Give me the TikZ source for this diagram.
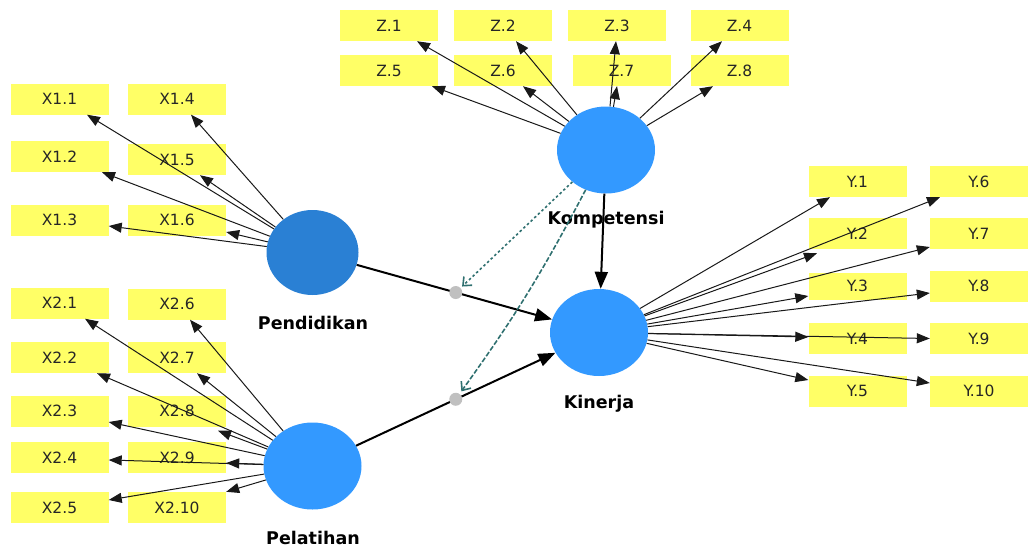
\documentclass[tikz,border=0pt]{standalone}
\usepackage{fontspec}
\setmainfont{DejaVu Sans}
\usetikzlibrary{arrows.meta,calc,shapes.geometric}
\definecolor{boxyellow}{RGB}{255,255,102}
\definecolor{lvblue}{RGB}{51,153,255}
\definecolor{lvdark}{RGB}{42,128,212}
\definecolor{tealpath}{RGB}{47,112,112}
\definecolor{dotgray}{RGB}{192,192,192}
\begin{document}
\begin{tikzpicture}[x=1pt,y=-1pt,
  ind/.style={rectangle, fill=boxyellow, minimum width=98pt, minimum height=31pt, inner sep=0pt,
              font=\fontsize{15.5}{17}\selectfont, text=black!85},
  lv/.style={ellipse, fill=lvblue, minimum width=98pt, minimum height=87pt, inner sep=0pt},
  lab/.style={font=\fontsize{17.5}{20}\selectfont\bfseries, text=black},
  arr/.style={draw=black!90, line width=1pt, -{Triangle[length=13pt,width=10pt]}},
  strpath/.style={draw=black, line width=2pt, -{Triangle[length=17pt,width=13pt]}},
  moddot/.style={circle, fill=dotgray, minimum size=13pt, inner sep=0pt},
  modarrow/.style={draw=tealpath, line width=1.6pt, -{Straight Barb[length=7pt,width=12pt]}}
]
\useasboundingbox (0,0) rectangle (1028,550);

% latent variables
\node[lv] (K) at (606,150) {};
\node[lv, fill=lvdark, minimum width=92pt, minimum height=85pt] (P) at (312.5,252.5) {};
\node[lv] (L) at (312.5,466) {};
\node[lv] (Kin) at (599,332.5) {};

\node[lab] (Klab) at (606,220) {Kompetensi};
\node[lab] (Plab) at (313,323) {Pendidikan};
\node[lab] (Llab) at (313,538) {Pelatihan};
\node[lab] (Kinlab) at (599,404) {Kinerja};

% Z indicators
\node[ind] (Z1) at (389,25.5) {Z.1};
\node[ind] (Z2) at (503,25.5) {Z.2};
\node[ind] (Z3) at (617,25.5) {Z.3};
\node[ind] (Z4) at (739.5,25.5) {Z.4};
\node[ind] (Z5) at (389,70.5) {Z.5};
\node[ind] (Z6) at (503,70.5) {Z.6};
\node[ind] (Z7) at (621.5,70.5) {Z.7};
\node[ind] (Z8) at (739.5,70.5) {Z.8};

% X1 indicators
\node[ind] (X11) at (59.5,99) {X1.1};
\node[ind] (X14) at (177,99) {X1.4};
\node[ind] (X12) at (59.5,156.5) {X1.2};
\node[ind] (X15) at (177,159.5) {X1.5};
\node[ind] (X13) at (59.5,220) {X1.3};
\node[ind] (X16) at (177,220) {X1.6};

% X2 indicators
\node[ind] (X21) at (59.5,303) {X2.1};
\node[ind] (X26) at (177,304) {X2.6};
\node[ind] (X22) at (59.5,357.5) {X2.2};
\node[ind] (X27) at (177,357.5) {X2.7};
\node[ind] (X23) at (59.5,411) {X2.3};
\node[ind] (X28) at (177,411) {X2.8};
\node[ind] (X24) at (59.5,457.5) {X2.4};
\node[ind] (X29) at (177,457.5) {X2.9};
\node[ind] (X25) at (59.5,507.5) {X2.5};
\node[ind] (X210) at (177,507.5) {X2.10};

% Y indicators
\node[ind] (Y1) at (857.5,181.5) {Y.1};
\node[ind] (Y6) at (979,181.5) {Y.6};
\node[ind] (Y2) at (857.5,233.5) {Y.2};
\node[ind] (Y7) at (979,233.5) {Y.7};
\node[ind, minimum height=27pt] (Y3) at (857.5,286) {Y.3};
\node[ind] (Y8) at (979,286) {Y.8};
\node[ind] (Y4) at (857.5,338.5) {Y.4};
\node[ind] (Y9) at (979,338.5) {Y.9};
\node[ind] (Y5) at (857.5,391) {Y.5};
\node[ind] (Y10) at (979,391) {Y.10};

% Kompetensi loadings
\draw[arr] (K) -- ([xshift=28pt]Z1.south);
\draw[arr] (K) -- ([xshift=13pt]Z2.south);
\draw[arr] (K) -- ([xshift=-1pt]Z3.south);
\draw[arr] (K) -- ([xshift=-17.5pt]Z4.south);
\draw[arr] (K) -- ([xshift=43pt]Z5.south);
\draw[arr] (K) -- ([xshift=20pt]Z6.south);
\draw[arr] (K) -- ([xshift=-4.5pt]Z7.south);
\draw[arr] (K) -- ([xshift=-26.5pt]Z8.south);

% Pendidikan loadings
\draw[arr] (P) -- ([xshift=27.5pt]X11.south);
\draw[arr] (P) -- ([xshift=14pt]X14.south);
\draw[arr] (P) -- ([xshift=42.5pt]X12.south);
\draw[arr] (P) -- ([xshift=23pt]X15.south);
\draw[arr] (P) -- ([yshift=-6pt]X13.east);
\draw[arr] (P) -- ([yshift=-12pt]X16.east);

% Pelatihan loadings
\draw[arr] (L) -- ([xshift=25.5pt]X21.south);
\draw[arr] (L) -- ([xshift=13pt]X26.south);
\draw[arr] (L) -- ([xshift=37.5pt]X22.south);
\draw[arr] (L) -- ([xshift=20pt]X27.south);
\draw[arr] (L) -- ([yshift=-11pt]X23.east);
\draw[arr] (L) -- ([xshift=41pt,yshift=-4pt]X28.south);
\draw[arr] (L) -- ([yshift=-2.5pt]X24.east);
\draw[arr] (L) -- ([yshift=-5.5pt]X29.east);
\draw[arr] (L) -- ([yshift=7.5pt]X25.east);
\draw[arr] (L) -- (X210.north east);

% Kinerja loadings
\draw[arr] (Kin) -- ([xshift=-27.5pt]Y1.south);
\draw[arr] (Kin) -- ([xshift=-39pt]Y6.south);
\draw[arr] (Kin) -- ([xshift=-40.5pt,yshift=-4pt]Y2.south);
\draw[arr] (Kin) -- ([yshift=-13.5pt]Y7.west);
\draw[arr] (Kin) -- ([yshift=-10pt]Y3.west);
\draw[arr] (Kin) -- ([yshift=-7pt]Y8.west);
\draw[arr] (Kin) -- ([yshift=1.5pt]Y4.west);
\draw[arr] (Kin) -- (Y9.west);
\draw[arr] (Kin) -- ([yshift=11pt]Y5.west);
\draw[arr] (Kin) -- ([yshift=8pt]Y10.west);

% structural paths
\draw[strpath] (P) -- (Kin);
\draw[strpath] (L) -- (Kin);
\draw[strpath] (K) -- (Kin);

% moderating effects
\node[moddot] (d1) at ($(P.center)!0.5!(Kin.center)$) {};
\node[moddot] (d2) at ($(L.center)!0.5!(Kin.center)$) {};
\draw[modarrow, dash pattern=on 2.5pt off 2.5pt, shorten >=2pt] (K) -- (d1);
\draw[modarrow, dash pattern=on 5pt off 2pt, shorten >=3pt] (K) to[bend left=4] (d2);

\end{tikzpicture}
\end{document}
